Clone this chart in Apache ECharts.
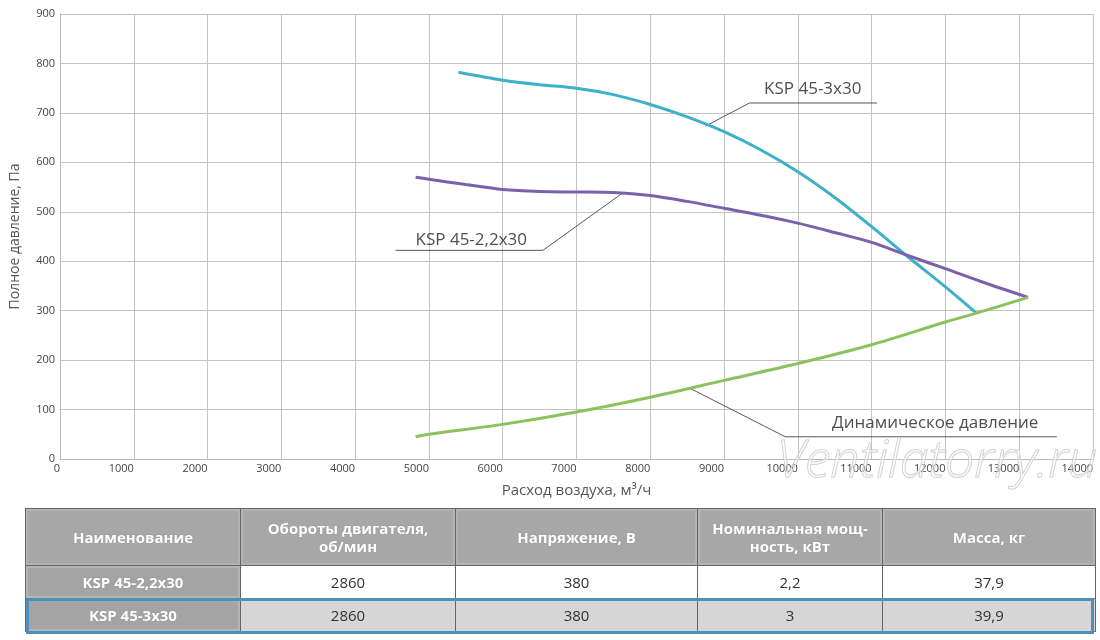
<!DOCTYPE html>
<html>
<head>
<meta charset="utf-8">
<script src="https://cdn.jsdelivr.net/npm/echarts@6/dist/echarts.min.js"></script>
<style>
    body{margin:0;background:#fff;font-family:"Open Sans",sans-serif;}
    #chart{position:absolute;left:0;top:0;width:1100px;height:640px;}
    table.spec{position:absolute;left:25px;top:508px;width:1070px;border-collapse:collapse;table-layout:fixed;
        border:1px solid #555;font-size:15px;}
    table.spec td,table.spec th{border:1px solid #666;text-align:center;padding:0;}
    table.spec th{background:#a7a7a7;color:#fff;font-weight:700;height:56px;line-height:18px;
        text-shadow:0 0 1px #888;box-shadow:inset 0 0 0 2px #b3b3b3;}
    table.spec td{height:32px;color:#333;}
    table.spec td.name{background:#a4a4a4;color:#fff;font-weight:700;box-shadow:inset 0 0 0 2px #b5b5b5;text-shadow:0 0 1px #888;}
    table.spec tr.r1 td{background:#fff;}
    table.spec tr.r2 td{background:#d6d6d6;}
    table.spec tr td.name{background:#a4a4a4;}
    #hl{position:absolute;left:26px;top:598px;width:1062px;height:30px;border:3px solid #4f8fbf;}
</style>
</head>
<body>
<div id="chart"></div>
<table class="spec">
    <colgroup><col style="width:215px"><col style="width:215px"><col style="width:242px"><col style="width:185px"><col style="width:213px"></colgroup>
    <thead><tr id="head"></tr></thead>
    <tbody id="rows"></tbody>
</table>
<div id="hl"></div>
<script>
// кривые: [расход м3/ч, давление Па]
var curve3x30 = [[5400,782],[6000,766],[6500,757],[7000,750],[7500,737],[8000,717],[8500,692],[9000,662],
    [9500,625],[10000,581],[10500,529],[11000,470],[11500,408],[12000,348],[12420,295]];
var curve22x30 = [[4820,570],[5000,566],[5500,555],[6000,545],[6500,541],[7000,540],[7500,539],[8000,533],
    [8500,521],[9000,507],[9500,493],[10000,477],[10500,458],[11000,438],[11500,411],[12000,385],[12500,358],[13120,327]];
var curveDyn = [[4820,45],[5000,50],[6000,70],[7000,95],[8000,125],[9000,159],[10000,193],[11000,231],
    [12000,277],[12420,295],[13120,327]];

// выноски
var lead3x30 = [[8745,673],[9345,720],[11073,720]];
var lead22x30 = [[7625,538],[6545,422],[4548,422]];
var leadDyn = [[8551,142],[9829,45],[13509,45]];
var labelPts = [[10202,748,'KSP 45-3x30'],[5574,442,'KSP 45-2,2x30'],[11862,72,'Динамическое давление']];

var xTicks = {min:0, max:14000, step:1000};
var yTicks = {min:0, max:900, step:100};

var tableHead = ['Наименование','Обороты двигателя,<br>об/мин','Напряжение, В','Номинальная мощ-<br>ность, кВт','Масса, кг'];
var tableRows = [
    ['KSP 45-2,2x30','2860','380','2,2','37,9'],
    ['KSP 45-3x30','2860','380','3','39,9']
];

var fanChart = function(){
    var obj = {};

    obj.initTable = function(){
        var head = '';
        for (var i = 0; i < tableHead.length; i++){
            head += '<th>' + tableHead[i] + '</th>';
        }
        document.getElementById('head').innerHTML = head;
        var body = '';
        for (var r = 0; r < tableRows.length; r++){
            body += '<tr class="r' + (r + 1) + '">';
            for (var c = 0; c < tableRows[r].length; c++){
                body += '<td' + (c == 0 ? ' class="name"' : '') + '>' + tableRows[r][c] + '</td>';
            }
            body += '</tr>';
        }
        document.getElementById('rows').innerHTML = body;
    };

    obj.initChart = function(){
        var chart = echarts.init(document.getElementById('chart'));
        var font = '"Open Sans", sans-serif';

        function curve(name, data, color){
            return {
                name: name, type: 'line', data: data, smooth: 0.3, showSymbol: false, silent: true,
                lineStyle: {color: color, width: 3}, z: 3
            };
        }
        function leader(data){
            return {
                type: 'line', data: data, showSymbol: false, silent: true,
                lineStyle: {color: '#444', width: 0.9}, z: 2
            };
        }

        var option = {
            animation: false,
            backgroundColor: '#fff',
            textStyle: {fontFamily: font},
            grid: {left: 55, right: 7, top: 14, bottom: 181},
            xAxis: {
                type: 'value', min: xTicks.min, max: xTicks.max, interval: xTicks.step,
                name: 'Расход воздуха, м³/ч', nameLocation: 'middle', nameGap: 24,
                nameTextStyle: {fontSize: 15, color: '#555', fontFamily: font},
                axisLine: {lineStyle: {color: '#bbb'}},
                axisTick: {show: false},
                axisLabel: {align: 'right', margin: 4, fontSize: 11, color: '#444', fontFamily: font,
                    formatter: function(v){ return String(v); }},
                splitLine: {lineStyle: {color: '#c4c4c4', width: 1}}
            },
            yAxis: {
                type: 'value', min: yTicks.min, max: yTicks.max, interval: yTicks.step,
                name: 'Полное давление, Па', nameLocation: 'middle', nameGap: 38,
                nameTextStyle: {fontSize: 14, color: '#555', fontFamily: font},
                axisLine: {show: true, lineStyle: {color: '#bbb'}},
                axisTick: {show: false},
                axisLabel: {margin: 5, fontSize: 11, color: '#444', fontFamily: font, padding: [0, 0, 3, 0]},
                splitLine: {lineStyle: {color: '#c4c4c4', width: 1}}
            },
            series: [
                curve('KSP 45-3x30', curve3x30, '#3cb1c8'),
                curve('KSP 45-2,2x30', curve22x30, '#7a61aa'),
                curve('Динамическое давление', curveDyn, '#8cc15e'),
                leader(lead3x30),
                leader(lead22x30),
                leader(leadDyn),
                {
                    type: 'scatter', symbolSize: 0, silent: true, z: 4,
                    data: labelPts.map(function(p){ return {value: [p[0], p[1]], name: p[2]}; }),
                    label: {show: true, position: 'inside', formatter: '{b}', fontSize: 17,
                        color: '#222', fontFamily: font}
                }
            ],
            graphic: [{
                type: 'text', left: 776, top: 436, silent: true, z: 10,
                style: {text: 'Ventilatorry.ru', font: 'italic 300 52px "Open Sans", sans-serif',
                    fill: 'rgba(255,255,255,0.35)', stroke: '#c9c9c9', lineWidth: 1}
            }]
        };
        chart.setOption(option);
    };
    return obj;
}();

fanChart.initTable();
fanChart.initChart();
</script>
</body>
</html>
